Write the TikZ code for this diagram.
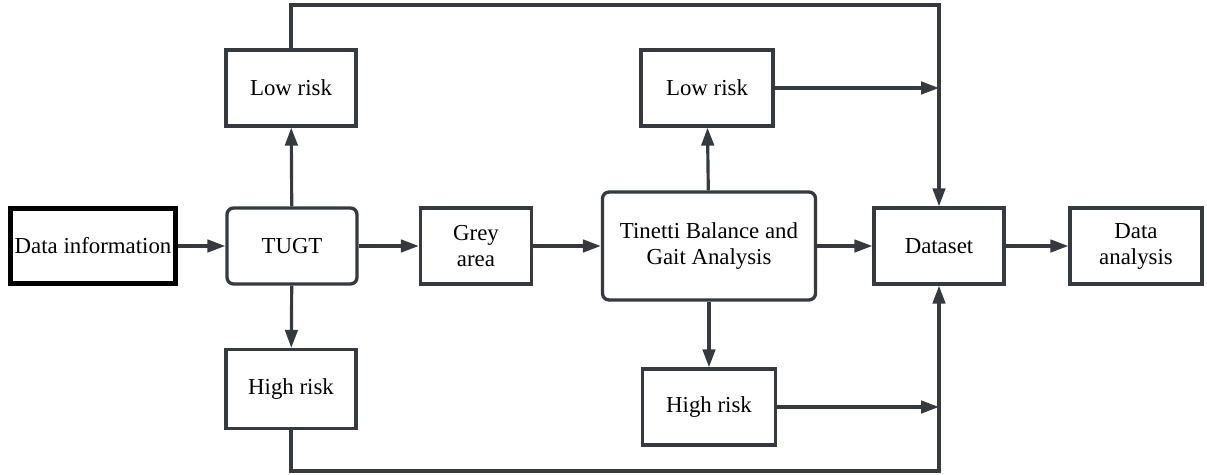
\documentclass[tikz,border=0pt]{standalone}
\usepackage{fontspec}
\setmainfont{Liberation Serif}
\newfontfamily\boxfont{Liberation Serif}
\usepackage{tikz}
\usetikzlibrary{arrows.meta}
\definecolor{linegray}{HTML}{363A3E}

\begin{document}
\begin{tikzpicture}[x=0.02cm,y=-0.02cm,
  blk/.style={draw=linegray,line width=1.9pt,minimum width=2.6cm,minimum height=1.52cm,
    align=center,inner sep=2pt,font=\boxfont\fontsize{13}{14.8}\selectfont},
  rblk/.style={blk,rounded corners=0.13cm},
  arr/.style={draw=linegray,line width=1.8pt,-{Triangle[length=0.36cm,width=0.25cm]}}]
\useasboundingbox (0,0) rectangle (1207,475);
\node[blk,draw=black,line width=3.1pt,minimum width=3.3cm,minimum height=1.5cm] (datainfo) at (93,246) {Data information};
\node[rblk] (tugt) at (292,246) {TUGT};
\node[blk] (lowL) at (291,88) {Low risk};
\node[blk,minimum height=1.58cm] (highL) at (291,389) {High risk};
\node[blk,minimum width=2.22cm] (grey) at (476,246) {Grey\\area};
\node[rblk,minimum width=4.26cm,minimum height=2.16cm] (tinetti) at (709,246) {Tinetti Balance and\\Gait Analysis};
\node[blk,minimum width=2.64cm] (lowR) at (707,88) {Low risk};
\node[blk,minimum width=2.66cm] (highR) at (709,407) {High risk};
\node[blk] (dataset) at (939,246) {Dataset};
\node[blk,minimum width=2.64cm] (analysis) at (1136,246) {Data\\analysis};
\coordinate (top) at (0,5);
\coordinate (bot) at (0,471);
\foreach \a/\b in {datainfo/tugt,tugt/grey,grey/tinetti,tinetti/dataset,dataset/analysis}
\draw[arr] (\a) -- (\b);
\foreach \a/\b in {tugt/lowL,tugt/highL,tinetti/lowR,tinetti/highR}
\draw[arr] (\a) -- (\b);
\draw[arr] (lowL.north) |- (top -| dataset.north) -- (dataset.north);
\draw[arr] (highL.south) |- (bot -| dataset.south) -- (dataset.south);
\draw[arr] (lowR.east) -- (lowR.east -| dataset.north);
\draw[arr] (highR.east) -- (highR.east -| dataset.south);
\end{tikzpicture}
\end{document}
